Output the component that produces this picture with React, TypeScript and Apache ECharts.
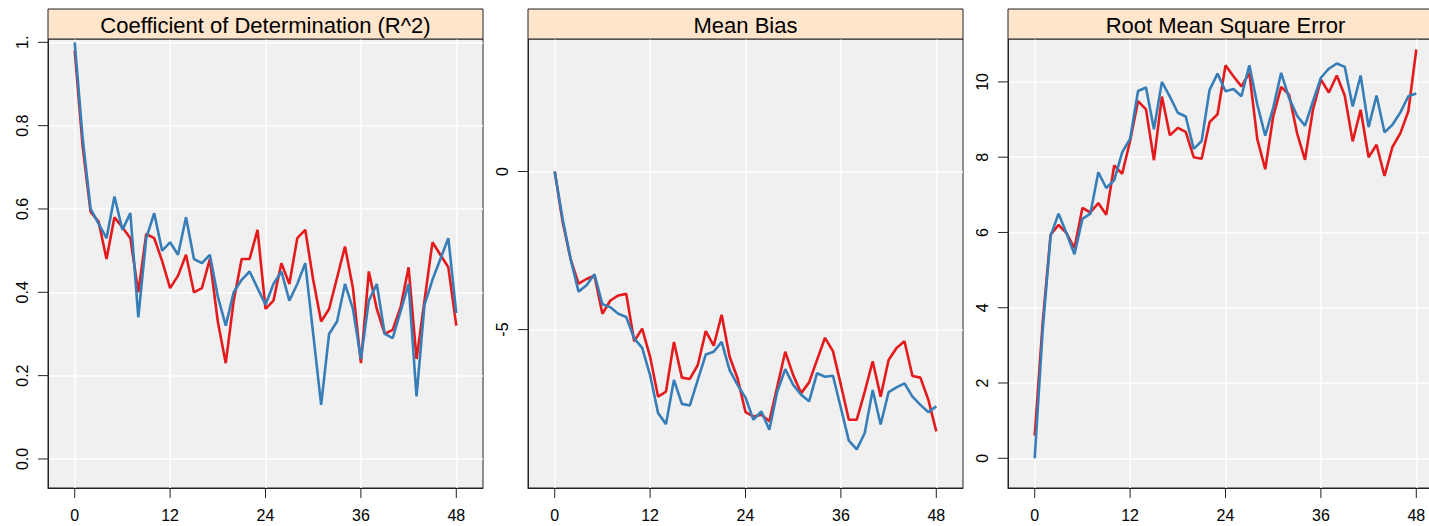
import { useEffect, useRef } from 'react';
import * as echarts from 'echarts';

const leadTimes = [0, 1, 2, 3, 4, 5, 6, 7, 8, 9, 10, 11, 12, 13, 14, 15, 16, 17, 18, 19, 20, 21, 22, 23, 24, 25, 26, 27, 28, 29, 30, 31, 32, 33, 34, 35, 36, 37, 38, 39, 40, 41, 42, 43, 44, 45, 46, 47, 48];

const r2Red = [0.98, 0.75, 0.593, 0.57, 0.48, 0.58, 0.556, 0.53, 0.40, 0.54, 0.53, 0.475, 0.41, 0.44, 0.49, 0.40, 0.41, 0.48, 0.33, 0.23, 0.38, 0.48, 0.48, 0.55, 0.36, 0.38, 0.47, 0.42, 0.53, 0.55, 0.43, 0.33, 0.36, 0.435, 0.51, 0.41, 0.23, 0.45, 0.36, 0.30, 0.31, 0.365, 0.46, 0.24, 0.38, 0.52, 0.49, 0.46, 0.32];
const r2Blue = [1.0, 0.77, 0.60, 0.565, 0.53, 0.63, 0.55, 0.59, 0.34, 0.53, 0.59, 0.50, 0.52, 0.49, 0.58, 0.48, 0.47, 0.49, 0.39, 0.32, 0.40, 0.43, 0.45, 0.41, 0.37, 0.42, 0.45, 0.38, 0.42, 0.47, 0.30, 0.13, 0.30, 0.33, 0.42, 0.36, 0.24, 0.38, 0.42, 0.30, 0.29, 0.355, 0.42, 0.15, 0.37, 0.43, 0.48, 0.53, 0.35];

const biasRed = [0, -1.6, -2.77, -3.55, -3.4, -3.3, -4.5, -4.08, -3.92, -3.87, -5.37, -4.97, -5.86, -7.12, -6.96, -5.39, -6.52, -6.56, -6.12, -5.05, -5.51, -4.53, -5.86, -6.54, -7.61, -7.75, -7.69, -7.9, -6.8, -5.7, -6.44, -7.01, -6.67, -5.96, -5.26, -5.68, -6.75, -7.85, -7.85, -6.96, -6.0, -7.12, -5.96, -5.58, -5.37, -6.47, -6.52, -7.22, -8.22];
const biasBlue = [0, -1.5, -2.77, -3.8, -3.6, -3.25, -4.2, -4.29, -4.5, -4.6, -5.28, -5.58, -6.44, -7.64, -7.99, -6.59, -7.35, -7.4, -6.59, -5.79, -5.7, -5.39, -6.28, -6.75, -7.15, -7.85, -7.59, -8.17, -6.96, -6.25, -6.75, -7.06, -7.27, -6.38, -6.49, -6.46, -7.48, -8.51, -8.79, -8.27, -6.91, -8.0, -6.98, -6.83, -6.7, -7.12, -7.38, -7.61, -7.43];

const rmseRed = [0.6, 3.6, 5.94, 6.2, 5.98, 5.58, 6.65, 6.53, 6.78, 6.47, 7.78, 7.56, 8.43, 9.49, 9.27, 7.92, 9.61, 8.58, 8.78, 8.67, 8.0, 7.96, 8.93, 9.14, 10.44, 10.15, 9.88, 10.24, 8.48, 7.68, 9.08, 9.87, 9.66, 8.64, 7.93, 9.26, 10.06, 9.72, 10.17, 9.64, 8.42, 9.26, 8.0, 8.33, 7.5, 8.27, 8.64, 9.22, 10.86];
const rmseBlue = [0, 3.4, 5.91, 6.5, 5.98, 5.42, 6.36, 6.5, 7.6, 7.18, 7.39, 8.13, 8.49, 9.76, 9.85, 8.74, 10.0, 9.61, 9.18, 9.08, 8.22, 8.43, 9.79, 10.22, 9.75, 9.81, 9.62, 10.44, 9.4, 8.57, 9.31, 10.24, 9.57, 9.1, 8.84, 9.48, 10.11, 10.35, 10.49, 10.4, 9.35, 10.17, 8.8, 9.64, 8.66, 8.86, 9.19, 9.62, 9.69];

const panelTitles = ['Coefficient of Determination (R^2)', 'Mean Bias', 'Root Mean Square Error'];
const xTicks = [0, 12, 24, 36, 48];
const r2Ticks = [0, 0.2, 0.4, 0.6, 0.8, 1];
const r2TickLabels = ['0.0', '0.2', '0.4', '0.6', '0.8', '1.'];
const biasTicks = [-5, 0];
const biasTickLabels = ['-5', '0'];
const rmseTicks = [0, 2, 4, 6, 8, 10];
const rmseTickLabels = ['0', '2', '4', '6', '8', '10'];

const RED = '#E41A1C';
const BLUE = '#377EB8';
const FONT = '"Liberation Sans", Arial, Helvetica, sans-serif';

const panelLefts = [48, 528, 1008];
const PANEL_W = 435;
const PANEL_TOP = 39;
const PANEL_H = 449;
const STRIP_TOP = 9;
const TICK_LEN = 10;
const X_RANGE = [-3.36, 51.36];
const Y_RANGES = [
  [-0.0697, 1.008],
  [-10.01, 4.19],
  [-0.79, 11.14],
];

export default function App() {
  const ref = useRef<HTMLDivElement>(null);

  useEffect(() => {
    if (!ref.current) return;
    const chart = echarts.init(ref.current, undefined, { renderer: 'svg' });

    const panels = [
      { red: r2Red, blue: r2Blue, ticks: r2Ticks, labels: r2TickLabels },
      { red: biasRed, blue: biasBlue, ticks: biasTicks, labels: biasTickLabels },
      { red: rmseRed, blue: rmseBlue, ticks: rmseTicks, labels: rmseTickLabels },
    ];

    const grid = panels.map((_, k) => ({
      left: panelLefts[k],
      top: PANEL_TOP,
      width: PANEL_W,
      height: PANEL_H,
      show: true,
      containLabel: false,
      outerBoundsMode: 'none',
      backgroundColor: '#F0F0F0',
      borderColor: '#222',
      borderWidth: 1,
    }));

    const xAxis = panels.map((_, k) => ({
      type: 'value',
      gridIndex: k,
      min: X_RANGE[0],
      max: X_RANGE[1],
      axisLine: { show: true, onZero: false, lineStyle: { color: '#222', width: 1 } },
      axisTick: { show: false, customValues: xTicks },
      axisLabel: {
        customValues: xTicks,
        margin: 19,
        fontSize: 16,
        color: '#000',
        fontFamily: FONT,
      },
      splitLine: { show: true, lineStyle: { color: '#FFFFFF', width: 1.5 } },
    }));

    const yAxis = panels.map((p, k) => ({
      type: 'value',
      gridIndex: k,
      min: Y_RANGES[k][0],
      max: Y_RANGES[k][1],
      axisLine: { show: true, onZero: false, lineStyle: { color: '#222', width: 1 } },
      axisTick: { show: false, customValues: p.ticks },
      axisLabel: {
        customValues: p.ticks,
        rotate: 90,
        margin: 18,
        fontSize: 16,
        color: '#000',
        fontFamily: FONT,
        formatter: (v: number) => {
          const idx = p.ticks.findIndex((t) => Math.abs(t - v) < 1e-6);
          return idx >= 0 ? p.labels[idx] : '';
        },
      },
      splitLine: { show: true, lineStyle: { color: '#FFFFFF', width: 1.5 } },
    }));

    const series: any[] = [];
    panels.forEach((p, k) => {
      [
        { data: p.red, color: RED },
        { data: p.blue, color: BLUE },
      ].forEach((s) => {
        series.push({
          type: 'line',
          xAxisIndex: k,
          yAxisIndex: k,
          showSymbol: false,
          data: leadTimes.map((t, i) => [t, s.data[i]]),
          lineStyle: { color: s.color, width: 2.6 },
          itemStyle: { color: s.color },
        });
      });

      // bottom tick marks, positioned through the axis scales
      series.push({
        type: 'custom',
        xAxisIndex: k,
        yAxisIndex: k,
        clip: false,
        silent: true,
        z: 5,
        data: xTicks.map((t) => [t, Y_RANGES[k][0]]),
        renderItem: (_params: any, api: any) => {
          const pt = api.coord([api.value(0), api.value(1)]);
          return {
            type: 'line',
            shape: { x1: pt[0], y1: pt[1], x2: pt[0], y2: pt[1] + TICK_LEN },
            style: { stroke: '#222', lineWidth: 1 },
          };
        },
      });

      // left tick marks, positioned through the axis scales
      series.push({
        type: 'custom',
        xAxisIndex: k,
        yAxisIndex: k,
        clip: false,
        silent: true,
        z: 5,
        data: p.ticks.map((t) => [X_RANGE[0], t]),
        renderItem: (_params: any, api: any) => {
          const pt = api.coord([api.value(0), api.value(1)]);
          return {
            type: 'line',
            shape: { x1: pt[0] - TICK_LEN, y1: pt[1], x2: pt[0], y2: pt[1] },
            style: { stroke: '#222', lineWidth: 1 },
          };
        },
      });
    });

    const graphic: any[] = [];
    panelTitles.forEach((title, k) => {
      graphic.push({
        type: 'rect',
        shape: { x: panelLefts[k], y: STRIP_TOP, width: PANEL_W, height: PANEL_TOP - STRIP_TOP },
        style: { fill: '#FFE5CC', stroke: '#222', lineWidth: 1 },
        z: 10,
      });
      graphic.push({
        type: 'text',
        x: panelLefts[k] + PANEL_W / 2,
        y: (STRIP_TOP + PANEL_TOP) / 2 + 1,
        style: {
          text: title,
          font: `22px ${FONT}`,
          fill: '#000',
          textAlign: 'center',
          textVerticalAlign: 'middle',
        },
        z: 11,
      });
    });

    chart.setOption({
      animation: false,
      backgroundColor: '#FFFFFF',
      grid,
      xAxis,
      yAxis,
      series,
      graphic,
    } as any);

    return () => {
      chart.dispose();
    };
  }, []);

  return (
    <div
      ref={ref}
      style={{ position: 'absolute', left: 0, top: 0, width: 1429, height: 526, overflow: 'hidden' }}
    />
  );
}
